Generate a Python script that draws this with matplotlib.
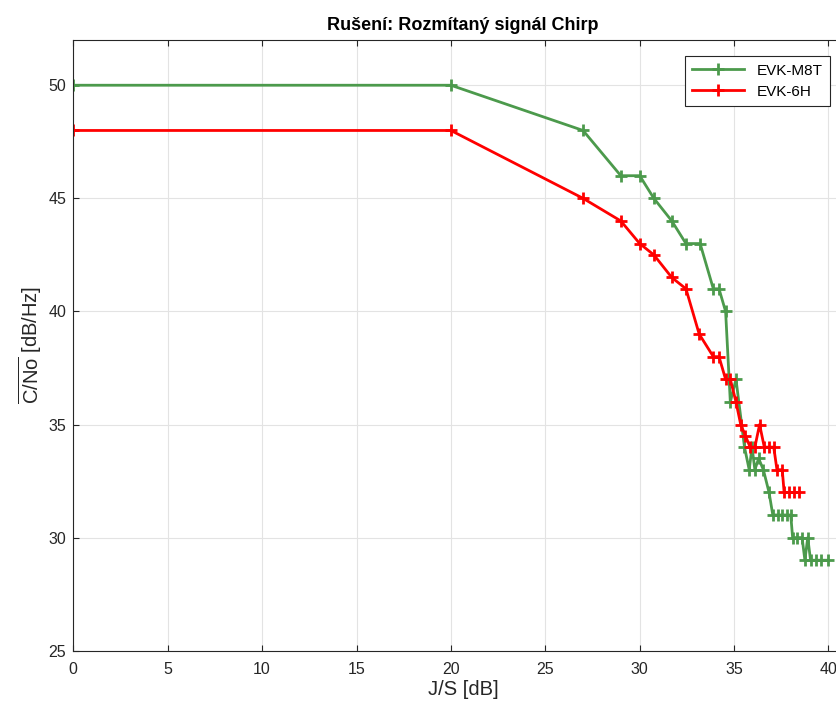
import matplotlib
matplotlib.use("Agg")
import matplotlib.pyplot as plt

plt.rcParams['font.family'] = ['Liberation Sans', 'DejaVu Sans']
plt.rcParams['mathtext.fontset'] = 'custom'
plt.rcParams['mathtext.rm'] = 'Liberation Sans'

# EVK-M8T
m8t_js = [0, 20, 27, 29, 30, 30.75, 31.7, 32.45, 33.2, 33.9, 34.2, 34.55, 34.8,
          35.1, 35.55, 35.8, 35.95, 36.1, 36.3, 36.55, 36.85, 37.05, 37.3, 37.55,
          37.8, 38.0, 38.1, 38.35, 38.6, 38.75, 38.9, 39.05, 39.35, 39.6, 39.95]
m8t_cno = [50, 50, 48, 46, 46, 45, 44, 43, 43, 41, 41, 40, 36,
           37, 34, 33, 34, 33, 33.5, 33, 32, 31, 31, 31,
           31, 31, 30, 30, 30, 29, 30, 29, 29, 29, 29]

# EVK-6H
h6_js = [0, 20, 27, 29, 30, 30.75, 31.7, 32.45, 33.15, 33.9, 34.2, 34.55, 34.8,
         35.1, 35.35, 35.6, 35.85, 36.1, 36.35, 36.6, 36.85, 37.1, 37.27, 37.55,
         37.65, 37.9, 38.15, 38.45]
h6_cno = [48, 48, 45, 44, 43, 42.5, 41.5, 41, 39, 38, 38, 37, 37,
          36, 35, 34.5, 34, 34, 35, 34, 34, 34, 33, 33,
          32, 32, 32, 32]

x_max = 41.3
fig = plt.figure(figsize=(8.36, 7.08), dpi=100)
# axes box runs past the right edge of the figure
ax = fig.add_axes([73.3 / 836, 57.3 / 708, x_max * 18.88 / 836, 610.7 / 708])

ax.plot(m8t_js, m8t_cno, color='#4c9a4c', lw=2, marker='+', ms=8, mew=2,
        label='EVK-M8T')
ax.plot(h6_js, h6_cno, color='#ff0000', lw=2, marker='+', ms=8, mew=2,
        label='EVK-6H')

ax.set_xlim(0, x_max)
ax.set_ylim(25, 52)
ax.set_xticks(range(0, 41, 5))
ax.set_yticks(range(25, 51, 5))
ax.grid(True, color='#e3e3e3', lw=0.8)
ax.set_axisbelow(True)
ax.tick_params(direction='in', labelsize=11.5, length=4, top=True, right=True,
               labeltop=False, labelright=False, colors='#262626')
ax.tick_params(axis='x', pad=8)
ax.tick_params(axis='y', pad=5)
for s in ax.spines.values():
    s.set_color('#262626')
    s.set_linewidth(0.8)

ax.set_xlabel('J/S [dB]', fontsize=14.5, color='#262626', labelpad=2)
ax.set_ylabel(r'$\overline{\mathrm{C/No}}$ [dB/Hz]', fontsize=14.5,
              color='#262626', labelpad=3)
ax.set_title('Rušení: Rozmítaný signál Chirp', fontsize=13, fontweight='bold',
             pad=7)

leg = ax.legend(loc='upper right', fontsize=11, fancybox=False,
                edgecolor='#262626', framealpha=1, handlelength=3.4,
                borderaxespad=0, borderpad=0.5, labelspacing=0.45,
                bbox_to_anchor=(830 / 836, 1 - 56 / 708),
                bbox_transform=fig.transFigure)
leg.get_frame().set_linewidth(0.8)

fig.savefig('out.png', dpi=100)
